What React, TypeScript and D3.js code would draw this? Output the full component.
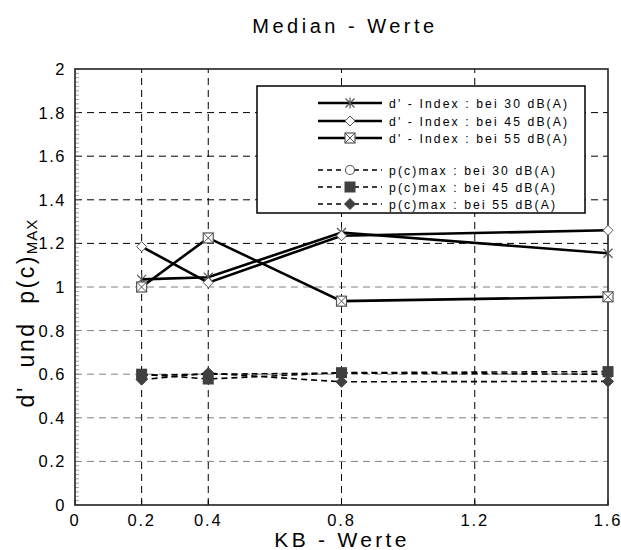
import React, { useRef, useEffect } from "react";
import * as d3 from "d3";

// KB values on the x axis
const kbValues = [0.2, 0.4, 0.8, 1.6];

// d' index (solid lines)
const dIndex30 = [1.035, 1.045, 1.25, 1.155];
const dIndex45 = [1.185, 1.02, 1.235, 1.26];
const dIndex55 = [1.0, 1.225, 0.935, 0.955];

// p(c)max (dashed lines)
const pcMax30 = [0.595, 0.6, 0.605, 0.6];
const pcMax45 = [0.6, 0.578, 0.607, 0.612];
const pcMax55 = [0.575, 0.605, 0.565, 0.567];

const xTicks = [0, 0.2, 0.4, 0.8, 1.2, 1.6];
const yTicks = [0, 0.2, 0.4, 0.6, 0.8, 1, 1.2, 1.4, 1.6, 1.8, 2];

const seriesNames = [
  "d' - Index : bei 30 dB(A)",
  "d' - Index : bei 45 dB(A)",
  "d' - Index : bei 55 dB(A)",
  "p(c)max : bei 30 dB(A)",
  "p(c)max : bei 45 dB(A)",
  "p(c)max : bei 55 dB(A)",
];

const W = 621;
const H = 550;
const margin = { top: 69, right: 13, bottom: 45, left: 75 };
const FONT = "'Liberation Sans', Arial, sans-serif";

const App = () => {
  const svgRef = useRef(null);

  useEffect(() => {
    draw();
  }, []);

  const draw = () => {
    const svg = d3.select(svgRef.current);
    svgRef.current.querySelectorAll("*").forEach((n) => n.remove());

    const innerW = W - margin.left - margin.right;
    const innerH = H - margin.top - margin.bottom;

    const xScale = d3.scaleLinear().domain([0, 1.6]).range([margin.left, margin.left + innerW]);
    const yScale = d3.scaleLinear().domain([0, 2]).range([margin.top + innerH, margin.top]);

    const series = [
      { values: dIndex30, marker: "star", dashed: false },
      { values: dIndex45, marker: "diamond", dashed: false },
      { values: dIndex55, marker: "boxx", dashed: false },
      { values: pcMax30, marker: "circle", dashed: true },
      { values: pcMax45, marker: "square", dashed: true },
      { values: pcMax55, marker: "fdiamond", dashed: true },
    ];

    const grid = svg.append("g");
    // horizontal grid
    grid.selectAll(".hgrid")
      .data(yTicks.filter((d) => d > 0 && d < 2))
      .join("line")
      .attr("x1", xScale(0))
      .attr("x2", xScale(1.6))
      .attr("y1", (d) => yScale(d))
      .attr("y2", (d) => yScale(d))
      .attr("stroke", (d) => (d >= 1.2 ? "#000" : "#808080"))
      .attr("stroke-width", 1)
      .attr("stroke-dasharray", "7,5");
    // vertical grid
    grid.selectAll(".vgrid")
      .data(xTicks.filter((d) => d > 0 && d < 1.6))
      .join("line")
      .attr("x1", (d) => xScale(d))
      .attr("x2", (d) => xScale(d))
      .attr("y1", yScale(0))
      .attr("y2", yScale(2))
      .attr("stroke", "#000")
      .attr("stroke-width", 1)
      .attr("stroke-dasharray", "7,5");

    // minor ticks on y axis (inside)
    grid.selectAll(".minor")
      .data(d3.range(0, 101).map((i) => i * 0.02))
      .join("line")
      .attr("x1", xScale(0))
      .attr("x2", xScale(0) + 4)
      .attr("y1", (d) => yScale(d))
      .attr("y2", (d) => yScale(d))
      .attr("stroke", "#777")
      .attr("stroke-width", 0.7);
    // x ticks (inside, bottom)
    grid.selectAll(".xtick")
      .data(xTicks)
      .join("line")
      .attr("x1", (d) => xScale(d))
      .attr("x2", (d) => xScale(d))
      .attr("y1", yScale(0))
      .attr("y2", yScale(0) - 5)
      .attr("stroke", "#000");

    // frame
    svg.append("rect")
      .attr("x", xScale(0))
      .attr("y", yScale(2))
      .attr("width", innerW)
      .attr("height", innerH)
      .attr("fill", "none")
      .attr("stroke", "#222")
      .attr("stroke-width", 1.6);

    // tick labels
    svg.append("g").selectAll("text")
      .data(yTicks)
      .join("text")
      .attr("x", xScale(0) - 9)
      .attr("y", (d) => yScale(d) + 6)
      .attr("text-anchor", "end")
      .attr("font-family", FONT)
      .attr("font-size", 16.5)
      .attr("letter-spacing", 1.5)
      .text((d) => d3.format("~g")(d));

    svg.append("g").selectAll("text")
      .data(xTicks)
      .join("text")
      .attr("x", (d) => xScale(d))
      .attr("y", yScale(0) + 21)
      .attr("text-anchor", "middle")
      .attr("font-family", FONT)
      .attr("font-size", 16.5)
      .attr("letter-spacing", 1.8)
      .text((d) => d3.format("~g")(d));

    const lineGen = d3.line()
      .x((d) => xScale(d[0]))
      .y((d) => yScale(d[1]));

    const plot = svg.append("g");
    series.forEach((s) => {
      const pts = kbValues.map((k, i) => [k, s.values[i]]);
      plot.append("path")
        .attr("d", lineGen(pts))
        .attr("fill", "none")
        .attr("stroke", "#000")
        .attr("stroke-width", s.dashed ? 1.6 : 2.6)
        .attr("stroke-dasharray", s.dashed ? "6,4" : null);
    });
    series.forEach((s) => {
      kbValues.forEach((k, i) => drawMarker(plot, s.marker, xScale(k), yScale(s.values[i])));
    });

    // legend
    const legend = svg.append("g");
    legend.append("rect")
      .attr("x", 257)
      .attr("y", 86)
      .attr("width", 328)
      .attr("height", 127)
      .attr("fill", "#fff")
      .attr("stroke", "#000")
      .attr("stroke-width", 1.5);
    const rowY = [103, 121, 138, 170, 187, 204];
    series.forEach((s, i) => {
      legend.append("line")
        .attr("x1", 318)
        .attr("x2", 382)
        .attr("y1", rowY[i])
        .attr("y2", rowY[i])
        .attr("stroke", "#000")
        .attr("stroke-width", s.dashed ? 1.3 : 2.6)
        .attr("stroke-dasharray", s.dashed ? "5,4" : null);
      drawMarker(legend, s.marker, 350, rowY[i]);
      legend.append("text")
        .attr("x", 389)
        .attr("y", rowY[i] + 4.5)
        .attr("font-family", FONT)
        .attr("font-size", 12.2)
        .attr("letter-spacing", 2.1)
        .text(seriesNames[i]);
    });

    // title and axis labels
    svg.append("text")
      .attr("x", 345)
      .attr("y", 33)
      .attr("text-anchor", "middle")
      .attr("font-family", FONT)
      .attr("font-size", 20)
      .attr("letter-spacing", 3.5)
      .text("Median - Werte");

    svg.append("text")
      .attr("x", 342)
      .attr("y", 547)
      .attr("text-anchor", "middle")
      .attr("font-family", FONT)
      .attr("font-size", 21)
      .attr("letter-spacing", 3.3)
      .text("KB - Werte");

    const yl = svg.append("text")
      .attr("transform", `translate(34, 313) rotate(-90)`)
      .attr("text-anchor", "middle")
      .attr("font-family", FONT)
      .attr("font-size", 23)
      .attr("letter-spacing", 2.5)
      .style("white-space", "pre");
    yl.append("tspan").text("d'  und  p(c)");
    yl.append("tspan").attr("font-size", 15).attr("letter-spacing", 1).attr("dy", 3).text("MAX");
  };

  const drawMarker = (g, type, x, y) => {
    const grey = "#555";
    const dark = "#404040";
    if (type === "star") {
      const a = 4.5;
      g.append("path")
        .attr("d", `M${x - a},${y - a}L${x + a},${y + a}M${x - a},${y + a}L${x + a},${y - a}M${x},${y - a - 1}L${x},${y + a + 1}`)
        .attr("stroke", grey)
        .attr("stroke-width", 1.2)
        .attr("fill", "none");
    } else if (type === "diamond" || type === "fdiamond") {
      const a = type === "diamond" ? 5 : 5.5;
      g.append("path")
        .attr("d", `M${x},${y - a}L${x + a},${y}L${x},${y + a}L${x - a},${y}Z`)
        .attr("fill", type === "diamond" ? "#fff" : dark)
        .attr("stroke", type === "diamond" ? grey : dark)
        .attr("stroke-width", 1);
    } else if (type === "boxx") {
      const a = 5;
      g.append("rect")
        .attr("x", x - a)
        .attr("y", y - a)
        .attr("width", 2 * a)
        .attr("height", 2 * a)
        .attr("fill", "#fff")
        .attr("stroke", grey)
        .attr("stroke-width", 1.2);
      g.append("path")
        .attr("d", `M${x - a},${y - a}L${x + a},${y + a}M${x - a},${y + a}L${x + a},${y - a}`)
        .attr("stroke", grey)
        .attr("stroke-width", 1);
    } else if (type === "circle") {
      g.append("circle")
        .attr("cx", x)
        .attr("cy", y)
        .attr("r", 4.5)
        .attr("fill", "#fff")
        .attr("stroke", grey)
        .attr("stroke-width", 1.1);
    } else if (type === "square") {
      g.append("rect")
        .attr("x", x - 5.5)
        .attr("y", y - 5.5)
        .attr("width", 11)
        .attr("height", 11)
        .attr("fill", dark);
    }
  };

  return (
    <div>
      <svg
        ref={svgRef}
        width={W}
        height={H}
        style={{ position: "absolute", left: 0, top: 0, background: "#fff" }}
      />
    </div>
  );
};

export default App;
